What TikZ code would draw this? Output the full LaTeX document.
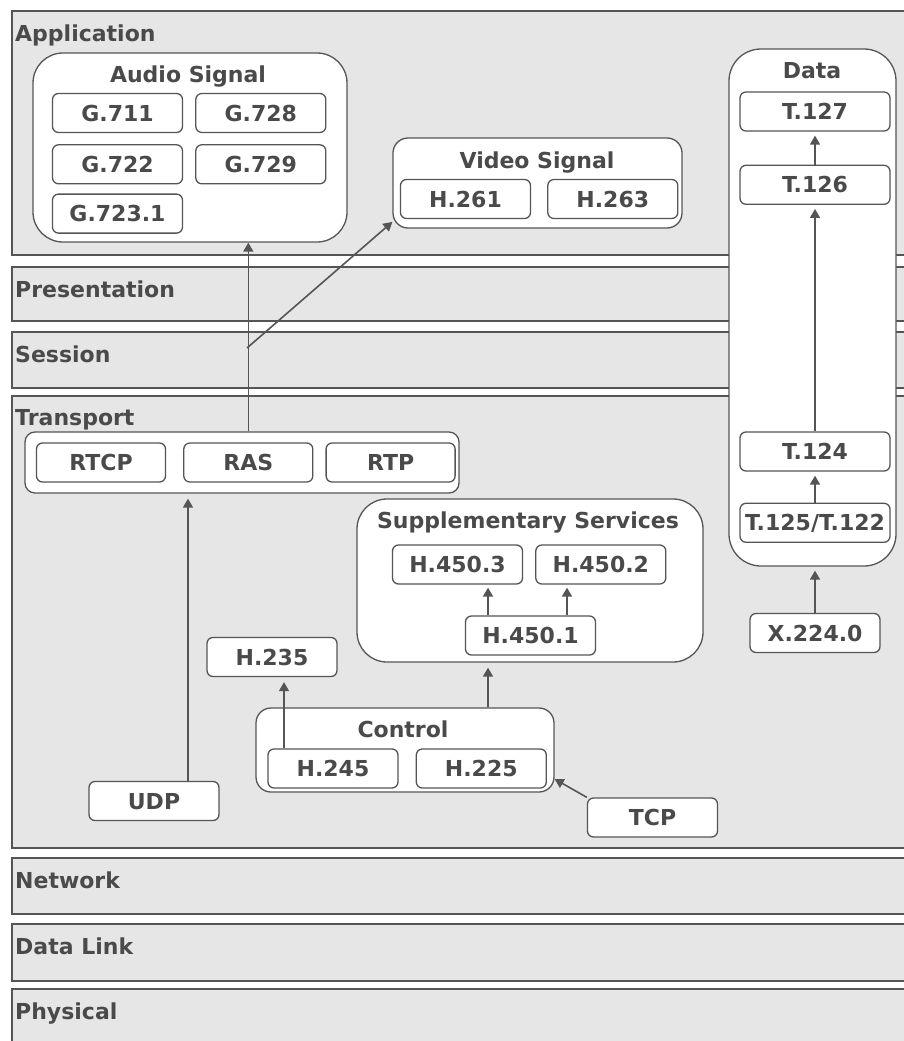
\documentclass[tikz,border=0pt]{standalone}
\usepackage{fontspec}
\setmainfont{DejaVu Sans}
\usepackage{tikz}
\usetikzlibrary{arrows.meta,positioning}

\definecolor{bandfill}{HTML}{E6E6E6}
\definecolor{linegray}{HTML}{555555}
\definecolor{textgray}{HTML}{4A4A4A}

\begin{document}
\begin{tikzpicture}[
    x=1pt, y=-1pt,
    font=\fontsize{22}{26}\selectfont\bfseries,
    text=textgray,
    layer/.style={draw=linegray, line width=2pt, fill=bandfill},
    layername/.style={anchor=base west, inner sep=0pt},
    proto/.style={draw=linegray, line width=1.3pt, fill=white, rounded corners=6pt,
        minimum width=130pt, minimum height=39pt, inner sep=0pt,
        text height=16pt, text depth=0pt},
    group/.style={draw=linegray, line width=1.3pt, fill=white, inner sep=0pt},
    grouptitle/.style={anchor=base, inner sep=0pt},
    link/.style={->, draw=linegray, line width=1.6pt},
    >={Triangle[length=9pt,width=10pt]}
]
    \useasboundingbox (0,0) rectangle (904,1041);
    \clip (0,0) rectangle (904,1041);
    \fill[white] (0,0) rectangle (904,1041);

    % OSI layers
    \draw[layer] (12,11) rectangle (940,255);
    \node[layername] (application) at (15,42) {Application};
    \draw[layer] (12,267) rectangle (940,321);
    \node[layername] (presentation) at (15,297) {Presentation};
    \draw[layer] (12,332) rectangle (940,388);
    \node[layername] (session) at (15,362) {Session};
    \draw[layer] (12,396) rectangle (940,848);
    \node[layername] (transport) at (15,425) {Transport};
    \draw[layer] (12,858) rectangle (940,914);
    \node[layername] (network) at (15,888) {Network};
    \draw[layer] (12,924) rectangle (940,981);
    \node[layername] (datalink) at (15,954) {Data Link};
    \draw[layer] (12,989) rectangle (940,1060);
    \node[layername] (physical) at (15,1019) {Physical};

    % audio
    \node[group, rounded corners=30pt, minimum width=314pt, minimum height=189pt] (audio) at (190,147.5) {};
    \node[grouptitle] (audiotitle) at (188,82) {Audio Signal};
    \node[proto] (g711) at (117.5,113) {G.711};
    \node[proto, right=12pt of g711] (g728) {G.728};
    \node[proto, below=11pt of g711] (g722) {G.722};
    \node[proto, right=12pt of g722] (g729) {G.729};
    \node[proto, below=9pt of g722] (g7231) {G.723.1};

    % video
    \node[group, rounded corners=15pt, minimum width=289pt, minimum height=90pt] (video) at (537.5,183) {};
    \node[grouptitle] (videotitle) at (537,168) {Video Signal};
    \node[proto] (h261) at (465.5,199) {H.261};
    \node[proto, right=16pt of h261] (h263) {H.263};

    % data
    \node[group, rounded corners=32pt, minimum width=167pt, minimum height=517pt] (data) at (812.5,307.5) {};
    \node[grouptitle] (datatitle) at (812,78) {Data};
    \node[proto, minimum width=150pt] (t127) at (815,111.5) {T.127};
    \node[proto, minimum width=150pt, below=33pt of t127] (t126) {T.126};
    \node[proto, minimum width=150pt] (t124) at (815,451.5) {T.124};
    \node[proto, minimum width=150pt, below=31pt of t124] (t125) {T.125/T.122};
    \node[proto] (x224) at (815,633) {X.224.0};

    % transport protocols
    \node[group, rounded corners=10pt, minimum width=434pt, minimum height=61pt] (rtpgrp) at (242,462.5) {};
    \node[proto, minimum width=129pt] (rtcp) at (101,462.5) {RTCP};
    \node[proto, minimum width=129pt, right=17pt of rtcp] (ras) {RAS};
    \node[proto, minimum width=129pt, right=12pt of ras] (rtp) {RTP};

    % supplementary services
    \node[group, rounded corners=30pt, minimum width=346pt, minimum height=163pt] (supp) at (530,580.5) {};
    \node[grouptitle] (supptitle) at (528,528) {Supplementary Services};
    \node[proto] (h4503) at (457.5,564.5) {H.450.3};
    \node[proto, right=12pt of h4503] (h4502) {H.450.2};
    \node[proto] (h4501) at (530.5,635.5) {H.450.1};

    % control
    \node[group, rounded corners=15pt, minimum width=298pt, minimum height=84pt] (control) at (405,750) {};
    \node[grouptitle] (controltitle) at (403,737) {Control};
    \node[proto] (h245) at (333,768.5) {H.245};
    \node[proto, right=17pt of h245] (h225) {H.225};
    \node[proto] (h235) at (272,657) {H.235};
    \node[proto] (udp) at (154,801) {UDP};
    \node[proto] (tcp) at (652.5,817.5) {TCP};

    \coordinate (branch) at (247,348);

    \draw[link] (rtpgrp.north -| ras) -- (audio.south -| ras);
    \draw[link] (branch) -- (video.-165);
    \draw[link, shorten >=5pt] ([xshift=34pt]udp.north) -- ([xshift=34pt]udp.north |- rtpgrp.south);
    \draw[link, shorten >=5pt] ([xshift=-49pt]h245.north) -- ([xshift=-49pt]h245.north |- h235.south);
    \draw[link, shorten >=5pt] ([xshift=83pt]control.north) -- ([xshift=83pt]control.north |- supp.south);
    \draw[link, shorten >=3pt] ([xshift=-42.5pt]h4501.north) -- ([xshift=-42.5pt]h4501.north |- h4503.south);
    \draw[link, shorten >=3pt] ([xshift=36.5pt]h4501.north) -- ([xshift=36.5pt]h4501.north |- h4502.south);
    \draw[link] (tcp.north west) -- (control.-11);
    \draw[link, shorten >=4pt] (x224.north) -- (x224.north |- data.south);
    \draw[link, shorten >=4pt] (t125) -- (t124);
    \draw[link, shorten >=4pt] (t124) -- (t126);
    \draw[link, shorten >=4pt] (t126) -- (t127);
\end{tikzpicture}
\end{document}
